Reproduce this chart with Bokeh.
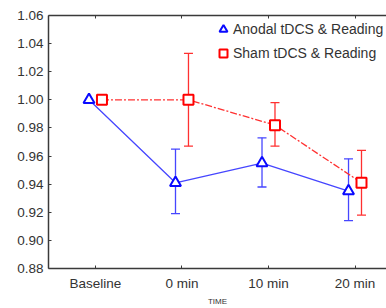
from bokeh.plotting import figure
from bokeh.models import (FixedTicker, LinearAxis, Whisker, TeeHead, ColumnDataSource,
                          Legend, LegendItem, Range1d, NumeralTickFormatter)
from bokeh.embed import file_html
from bokeh.resources import INLINE

categories = ["Baseline", "0 min", "10 min", "20 min"]
anodal_mean = [1.000, 0.941, 0.955, 0.935]
anodal_upper = [None, 0.965, 0.973, 0.958]
anodal_lower = [None, 0.919, 0.938, 0.914]
sham_mean = [1.000, 1.000, 0.982, 0.941]
sham_upper = [None, 1.033, 0.998, 0.964]
sham_lower = [None, 0.967, 0.967, 0.918]
y_ticks = [0.88, 0.90, 0.92, 0.94, 0.96, 0.98, 1.00, 1.02, 1.04, 1.06]

BLUE_LINE = "#4646ff"
BLUE = "#0a0aff"
RED_LINE = "#ff3030"
RED = "#ff0000"
AX = "#3a3a3a"
FONT = "Liberation Sans"

idx = list(range(len(categories)))
off = 0.075
xa = [i - off for i in idx]
xs = [i + off for i in idx]

p = figure(width=386, height=308, output_backend="svg", toolbar_location=None,
           x_range=Range1d(-0.543, 3.364), y_range=Range1d(0.88, 1.06),
           x_axis_location=None, y_axis_location=None,
           min_border_left=48, min_border_right=0, min_border_top=15, min_border_bottom=40)
p.outline_line_color = None
p.grid.visible = False
p.background_fill_color = "white"

# error bars
for xv, up, lo, col in [(xa, anodal_upper, anodal_lower, BLUE_LINE), (xs, sham_upper, sham_lower, RED_LINE)]:
    bx = [xv[i] for i in idx if up[i] is not None]
    bu = [up[i] for i in idx if up[i] is not None]
    bl = [lo[i] for i in idx if up[i] is not None]
    src = ColumnDataSource(dict(base=bx, upper=bu, lower=bl))
    w = Whisker(source=src, base="base", upper="upper", lower="lower", dimension="height",
                line_color=col, line_width=1.3,
                upper_head=TeeHead(size=9, line_color=col, line_width=1.3),
                lower_head=TeeHead(size=9, line_color=col, line_width=1.3))
    p.add_layout(w)

p.line(xa, anodal_mean, line_color=BLUE_LINE, line_width=1.3)
p.line(xs, sham_mean, line_color=RED_LINE, line_width=1.3, line_dash="7 2 2 2")
ra = p.scatter(xa, anodal_mean, marker="triangle", size=11, fill_color="white",
               line_color=BLUE, line_width=2)
rs = p.scatter(xs, sham_mean, marker="square", size=10, fill_color="white",
               line_color=RED, line_width=2)

legend = Legend(items=[LegendItem(label="Anodal tDCS & Reading", renderers=[ra]),
                       LegendItem(label="Sham tDCS & Reading", renderers=[rs])],
                location=(165, 205), background_fill_alpha=0, border_line_color=None,
                padding=0, margin=0, spacing=4, glyph_width=20, glyph_height=20,
                label_standoff=0, label_text_font=FONT, label_text_font_size="14px",
                label_text_color="#333333")
p.add_layout(legend)

bottom = LinearAxis(ticker=FixedTicker(ticks=idx),
                    major_label_overrides={i: c for i, c in zip(idx, categories)},
                    axis_label="TIME", axis_label_text_font_size="8px",
                    axis_label_text_font_style="normal", axis_label_text_font=FONT,
                    axis_label_text_color="#333333", axis_label_standoff=3,
                    major_label_standoff=7, major_label_text_font_size="13.5px")
left = LinearAxis(ticker=FixedTicker(ticks=y_ticks), formatter=NumeralTickFormatter(format="0.00"),
                  major_label_standoff=5, major_label_text_font_size="13.5px")
top = LinearAxis(ticker=FixedTicker(ticks=idx),
                 major_label_overrides={i: "" for i in idx}, major_label_standoff=0)
p.add_layout(bottom, "below")
p.add_layout(left, "left")
p.add_layout(top, "above")

for ax in [bottom, left, top]:
    ax.axis_line_color = AX
    ax.axis_line_width = 1.5
    ax.major_tick_line_color = AX
    ax.minor_tick_line_color = None
    ax.major_tick_in = 3
    ax.major_tick_out = 0
    ax.major_label_text_font = FONT
    ax.major_label_text_color = "#333333"

open("out.html", "w").write(file_html(p, INLINE))
